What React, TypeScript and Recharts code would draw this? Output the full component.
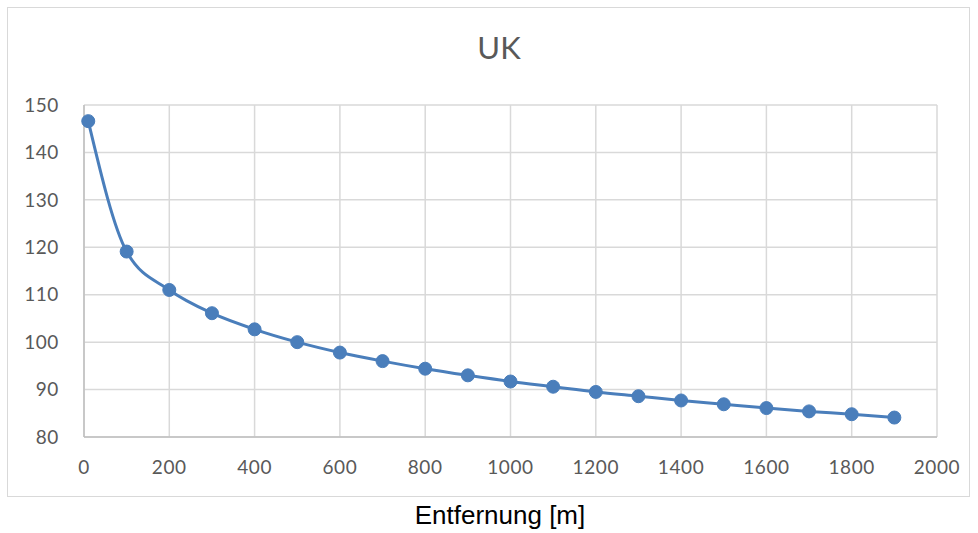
import { CartesianGrid, Line, LineChart, XAxis, YAxis } from "recharts";

const distances = [10, 100, 200, 300, 400, 500, 600, 700, 800, 900, 1000, 1100, 1200, 1300, 1400, 1500, 1600, 1700, 1800, 1900];
const ukValues = [146.6, 119.1, 111.0, 106.1, 102.7, 100.0, 97.8, 96.0, 94.4, 93.0, 91.7, 90.6, 89.5, 88.6, 87.7, 86.9, 86.1, 85.4, 84.8, 84.1];
const xTicks = [0, 200, 400, 600, 800, 1000, 1200, 1400, 1600, 1800, 2000];
const yTicks = [80, 90, 100, 110, 120, 130, 140, 150];

const data = distances.map((d, i) => ({ d, uk: ukValues[i] }));

const FONT = "Lato, 'Open Sans', sans-serif";
const BLUE = "#4a7ebb";

export default function App() {
  return (
    <div style={{ position: "absolute", left: 0, top: 0, width: 978, height: 533, background: "#fff" }}>
      <div
        style={{
          position: "absolute",
          left: 7,
          top: 7,
          width: 963,
          height: 490,
          border: "1.5px solid #d9d9d9",
          boxSizing: "border-box",
        }}
      />
      <div
        style={{
          position: "absolute",
          left: 0,
          width: 978,
          top: 28,
          textAlign: "center",
          fontFamily: FONT,
          fontSize: 31,
          color: "#595959",
          paddingLeft: 20,
          boxSizing: "border-box",
        }}
      >
        UK
      </div>
      <LineChart
        width={978}
        height={533}
        data={data}
        margin={{ top: 105, right: 41, left: 24, bottom: 56 }}
        style={{ position: "absolute", left: 0, top: 0 }}
      >
        <CartesianGrid stroke="#d9d9d9" strokeWidth={1.5} />
        <XAxis
          type="number"
          dataKey="d"
          domain={[0, 2000]}
          ticks={xTicks}
          interval={0}
          height={40}
          tickLine={false}
          axisLine={{ stroke: "#bfbfbf", strokeWidth: 1.5 }}
          tick={{ fill: "#595959", fontSize: 19, fontFamily: FONT, letterSpacing: 0.6 }}
          tickMargin={18}
        />
        <YAxis
          type="number"
          domain={[80, 150]}
          ticks={yTicks}
          interval={0}
          width={60}
          tickLine={false}
          axisLine={{ stroke: "#bfbfbf", strokeWidth: 1.5 }}
          tick={{ fill: "#595959", fontSize: 19, fontFamily: FONT, letterSpacing: 0.6 }}
          tickMargin={19}
        />
        <Line
          type="monotone"
          dataKey="uk"
          stroke={BLUE}
          strokeWidth={3}
          dot={{ r: 6.5, fill: BLUE, stroke: BLUE, strokeWidth: 1 }}
          isAnimationActive={false}
        />
      </LineChart>
      <div
        style={{
          position: "absolute",
          left: 0,
          width: 978,
          top: 500,
          textAlign: "center",
          fontFamily: "'Liberation Sans', Arial, sans-serif",
          fontSize: 26,
          color: "#000",
          paddingLeft: 22,
          boxSizing: "border-box",
        }}
      >
        Entfernung [m]
      </div>
    </div>
  );
}
